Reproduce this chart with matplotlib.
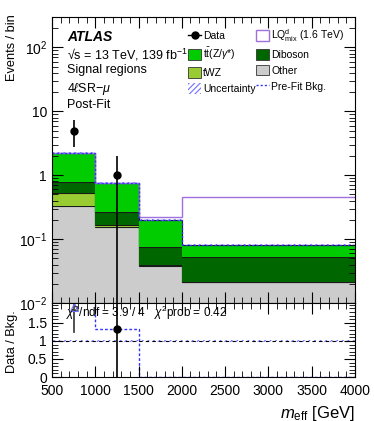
import numpy as np
import matplotlib
matplotlib.use("Agg")
import matplotlib.pyplot as plt
from matplotlib.patches import Patch
from matplotlib.lines import Line2D
from matplotlib.ticker import LogLocator, MultipleLocator, NullFormatter

plt.rcParams['font.family'] = ['Liberation Sans', 'DejaVu Sans']
plt.rcParams['hatch.color'] = '#6f6fff'
plt.rcParams['hatch.linewidth'] = 0.8
plt.rcParams['mathtext.fontset'] = 'custom'
plt.rcParams['mathtext.rm'] = 'Liberation Sans'
plt.rcParams['mathtext.it'] = 'Liberation Sans:italic'

# ---- data ----
bin_edges = [500, 1000, 1500, 2000, 4000]
bin_centers = [750, 1250, 1750, 3000]
other = [0.33, 0.155, 0.038, 0.021]
twz = [0.19, 0.01, 0.001, 0.0005]
diboson = [0.26, 0.10, 0.036, 0.031]
ttz = [1.45, 0.49, 0.123, 0.0295]
lq_signal = [0.0, 0.0, 0.022, 0.37]
prefit_ratio = [2.3, 1.33, 0.0, 0.0]
data = [5, 1, 0, 0]
rel_unc = 0.03
chi2_text = r"$\chi^2$/ndf = 3.9 / 4   $\chi^2$prob = 0.42"

edges = np.array(bin_edges, float)
centers = np.array(bin_centers, float)
comps = [("Other", other, '#cccccc'), ("tWZ", twz, '#99cc33'),
         ("Diboson", diboson, '#006600'), ("ttZ", ttz, '#00cc00')]

W, H = 374, 421
fig = plt.figure(figsize=(W / 100, H / 100), dpi=100)
ax = fig.add_axes([0.139, 0.2803, 0.810, 0.6793])
rx = fig.add_axes([0.139, 0.1045, 0.810, 0.1758], sharex=ax)

base = np.full(4, 1e-4)
for name, vals, col in comps:
    top = base + np.array(vals)
    ax.stairs(top, edges, baseline=base, fill=True, color=col, lw=0)
    ax.stairs(top, edges, baseline=None, color='#1a1a1a', lw=0.8)
    base = top
total = base
# LQ signal stacked
ax.stairs(total + np.array(lq_signal), edges, baseline=None, color='#a070e0', lw=1.0)
# uncertainty band
ax.stairs(total * (1 + rel_unc), edges, baseline=total * (1 - rel_unc), fill=True,
          facecolor='none', edgecolor='#6f6fff', hatch='//////', lw=0)
# pre-fit
ax.stairs(total, edges, baseline=None, color='#3333ff', lw=1.0, ls=(0, (1.5, 1.5)))
# data
d = np.array(data, float)
m = d > 0
ax.errorbar(centers[m], d[m], yerr=np.sqrt(d[m]), fmt='o', color='black', ms=5, lw=1.2, capsize=0)

ax.set_yscale('log')
ax.set_ylim(0.01, 300)
ax.set_xlim(500, 4000)
ax.yaxis.set_major_locator(LogLocator(base=10, numticks=10))
ax.yaxis.set_minor_locator(LogLocator(base=10, subs=np.arange(2, 10), numticks=10))
ax.yaxis.set_minor_formatter(NullFormatter())
ax.set_yticks([0.01, 0.1, 1, 10, 100])
ax.set_yticklabels([r'$10^{-2}$', r'$10^{-1}$', '1', '10', r'$10^{2}$'])
ax.tick_params(axis='both', which='both', direction='in', top=True, right=True, labelsize=10)
ax.tick_params(which='major', length=8)
ax.tick_params(which='minor', length=4)
ax.tick_params(axis='x', labelbottom=False)

# axis titles placed explicitly
fig.text(12 / W, 1 - 48 / H, 'Events / bin', rotation=90, ha='center', va='center', fontsize=9.2)
fig.text(12 / W, 1 - 342 / H, 'Data / Bkg.', rotation=90, ha='center', va='center', fontsize=9.2)

# texts
x0 = 0.05
ax.text(x0, 0.955, 'ATLAS', transform=ax.transAxes, fontsize=10, fontweight='bold', style='italic', va='top')
ax.text(x0, 0.895, '√s = 13 TeV, 139 fb$^{-1}$', transform=ax.transAxes, fontsize=9, va='top')
ax.text(x0, 0.835, 'Signal regions', transform=ax.transAxes, fontsize=9, va='top')
ax.text(x0, 0.775, r'4$\ell$SR$-\mu$', transform=ax.transAxes, fontsize=9, va='top')
ax.text(x0, 0.715, 'Post-Fit', transform=ax.transAxes, fontsize=9, va='top')

h_data = Line2D([], [], marker='o', color='black', ls='-', ms=5, lw=1.0)
h_lq = Patch(facecolor='none', edgecolor='#a070e0', lw=1.0)
h_ttz = Patch(facecolor='#00cc00', edgecolor='#333333', lw=0.6)
h_dib = Patch(facecolor='#006600', edgecolor='#333333', lw=0.6)
h_twz = Patch(facecolor='#99cc33', edgecolor='#333333', lw=0.6)
h_oth = Patch(facecolor='#cccccc', edgecolor='#333333', lw=0.6)
h_unc = Patch(facecolor='none', edgecolor='#6f6fff', hatch='//////', lw=0)
h_pre = Line2D([], [], color='#3333ff', lw=1.0, ls=(0, (1.5, 1.5)))
handles = [h_data, h_ttz, h_twz, h_unc, h_lq, h_dib, h_oth, h_pre]
labels = ['Data', r't$\bar{\rm t}$(Z/$\gamma$*)', 'tWZ', 'Uncertainty',
          r'LQ$^{\rm d}_{\rm mix}$ (1.6 TeV)', 'Diboson', 'Other', 'Pre-Fit Bkg.']
leg = ax.legend(handles, labels, ncol=2, loc='upper left', bbox_to_anchor=(0.425, 0.99),
                frameon=False, fontsize=7.5, handlelength=1.25, handleheight=1.2,
                handletextpad=0.2, columnspacing=0.05, labelspacing=0.48, borderpad=0.2)

# ratio
rx.axhspan(1 - rel_unc, 1 + rel_unc, facecolor='none', edgecolor='#6f6fff', hatch='//////', lw=0)
rx.axhline(1, color='black', lw=0.8, ls=(0, (3, 3)))
rx.stairs(prefit_ratio, edges, baseline=None, color='#3333ff', lw=1.0, ls=(0, (2, 1.5)))
ratio = d / total
rerr = np.sqrt(d) / total
ok = (d > 0) & (ratio < 2.0)
rx.errorbar(centers[ok], ratio[ok], yerr=rerr[ok], fmt='o', color='black', ms=5, lw=1.2, capsize=0)
out = (d > 0) & (ratio >= 2.0)
for c, r, e in zip(centers[out], ratio[out], rerr[out]):
    rx.plot([c, c], [r - e, 2.05], color='#333333', lw=1.2)
    rx.plot([c], [1.93], marker='^', ms=6, mfc='none', mec='#6f6fff', mew=0.8)
rx.text(0.045, 0.86, chi2_text, transform=rx.transAxes, fontsize=8.5, va='center')

rx.set_ylim(0, 2.05)
rx.set_xlim(500, 4000)
rx.set_yticks([0, 0.5, 1, 1.5])
rx.set_yticklabels(['0', '0.5', '1', '1.5'])
rx.yaxis.set_minor_locator(MultipleLocator(0.1))
rx.xaxis.set_major_locator(MultipleLocator(500))
rx.xaxis.set_minor_locator(MultipleLocator(100))
rx.tick_params(axis='both', which='both', direction='in', top=True, right=True, labelsize=10)
rx.tick_params(which='major', length=8)
rx.tick_params(which='minor', length=4)
rx.tick_params(axis='x', pad=5)
rx.set_xlabel(r'$m_{\rm eff}$ [GeV]', fontsize=12, loc='right')
ax.xaxis.set_minor_locator(MultipleLocator(100))
ax.xaxis.set_major_locator(MultipleLocator(500))

fig.savefig('out.png', dpi=100)
